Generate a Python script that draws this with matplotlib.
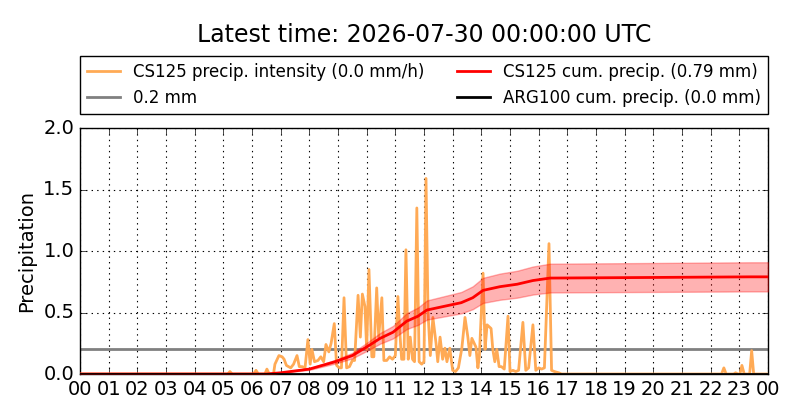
import numpy as np
import matplotlib
matplotlib.use("Agg")
import matplotlib.pyplot as plt

plt.style.use("classic")

title = "Latest time: 2026-07-30 00:00:00 UTC"

# CS125 precipitation intensity (mm/h), hours since 00 UTC
int_hours = [0.0, 5.15, 5.23, 5.31, 6.05, 6.14, 6.22, 6.45, 6.52, 6.6,
             6.75, 6.8, 6.94, 7.05, 7.12, 7.2, 7.35, 7.45, 7.57, 7.65,
             7.75, 7.85, 7.95, 8.03, 8.09, 8.18, 8.3, 8.4, 8.5, 8.58,
             8.68, 8.76, 8.87, 8.95, 9.05, 9.12, 9.21, 9.3, 9.4, 9.5,
             9.58, 9.7, 9.78, 9.85, 9.94, 10.0, 10.08, 10.18, 10.25, 10.35,
             10.42, 10.53, 10.6, 10.7, 10.8, 10.9, 11.0, 11.09, 11.15, 11.22,
             11.3, 11.37, 11.45, 11.52, 11.6, 11.67, 11.75, 11.83, 11.92, 12.0,
             12.07, 12.14, 12.22, 12.31, 12.42, 12.48, 12.56, 12.65, 12.73, 12.8,
             12.9, 13.0, 13.1, 13.2, 13.32, 13.43, 13.53, 13.6, 13.67, 13.81,
             13.88, 13.93, 14.06, 14.13, 14.2, 14.34, 14.4, 14.47, 14.54, 14.62,
             14.7, 14.8, 14.93, 15.0, 15.1, 15.2, 15.3, 15.45, 15.55, 15.65,
             15.8, 15.9, 16.0, 16.1, 16.2, 16.36, 16.45, 16.55, 16.7, 16.8,
             22.38, 22.46, 22.54, 22.8, 22.87, 22.95, 23.02, 23.09, 23.17, 23.36,
             23.43, 23.5, 24.0]
int_vals = [0.0, 0.0, 0.02, 0.0, 0.0, 0.03, 0.0, 0.0, 0.04, 0.0,
            0.0, 0.08, 0.15, 0.14, 0.12, 0.07, 0.05, 0.08, 0.15, 0.06,
            0.06, 0.05, 0.28, 0.08, 0.2, 0.1, 0.11, 0.14, 0.1, 0.24,
            0.18, 0.25, 0.41, 0.07, 0.05, 0.05, 0.62, 0.05, 0.06, 0.11,
            0.11, 0.64, 0.3, 0.65, 0.55, 0.2, 0.85, 0.14, 0.14, 0.7,
            0.3, 0.62, 0.11, 0.11, 0.14, 0.12, 0.15, 0.63, 0.36, 0.12,
            0.12, 1.01, 0.12, 0.3, 0.12, 0.1, 1.35, 0.1, 0.08, 0.1,
            1.59, 0.5, 0.15, 0.46, 0.25, 0.1, 0.3, 0.12, 0.21, 0.1,
            0.21, 0.03, 0.02, 0.05, 0.21, 0.46, 0.3, 0.15, 0.29, 0.22,
            0.05, 0.14, 0.82, 0.2, 0.4, 0.37, 0.2, 0.1, 0.2, 0.06,
            0.06, 0.04, 0.47, 0.02, 0.03, 0.02, 0.03, 0.42, 0.03, 0.05,
            0.4, 0.03, 0.05, 0.04, 0.05, 1.06, 0.03, 0.02, 0.01, 0.0,
            0.0, 0.05, 0.0, 0.0, 0.01, 0.0, 0.0, 0.07, 0.0, 0.0,
            0.19, 0.0, 0.0]

# CS125 cumulative precipitation (mm)
cum_hours = [0.0, 6.5, 7.0, 8.0, 8.9, 9.5, 10.0, 10.47, 10.92, 11.4,
             11.79, 12.1, 12.9, 13.3, 13.7, 14.06, 14.65, 15.25, 15.8, 16.4,
             20.0, 23.4, 24.0]
cum_vals = [0.0, 0.0, 0.01, 0.04, 0.10, 0.15, 0.22, 0.29, 0.34, 0.43,
            0.47, 0.52, 0.56, 0.58, 0.62, 0.68, 0.71, 0.73, 0.76, 0.78,
            0.785, 0.79, 0.79]
cum_spread = 0.15  # relative uncertainty band

# ARG100 cumulative precipitation (mm)
arg_hours = [0.0, 24.0]
arg_vals = [0.0, 0.0]

threshold = 0.2
hour_labels = ["%02d" % (h % 24) for h in range(25)]

fig = plt.figure(figsize=(8, 4.2), dpi=100)
fig.patch.set_facecolor("white")
ax = fig.add_axes([0.1, 0.1095, 0.86, 0.5857])

cum = np.array(cum_vals)
ax.axhline(threshold, color="0.5", lw=2, label="0.2 mm", zorder=2)
ax.plot(int_hours, int_vals, color="#ffaa55", lw=2,
        label="CS125 precip. intensity (0.0 mm/h)", zorder=3)
ax.fill_between(cum_hours, cum * (1 - cum_spread), cum * (1 + cum_spread),
                facecolor="red", edgecolor="red", alpha=0.3, zorder=4)
ax.plot(cum_hours, cum_vals, color="red", lw=2,
        label="CS125 cum. precip. (0.79 mm)", zorder=5)
ax.plot(arg_hours, arg_vals, color="black", lw=2,
        label="ARG100 cum. precip. (0.0 mm)", zorder=6)

ax.set_xlim(0, 24)
ax.set_ylim(0, 2)
ax.set_xticks(range(25))
ax.set_xticklabels(hour_labels)
ax.set_yticks([0, 0.5, 1.0, 1.5, 2.0])
ax.tick_params(labelsize=14)
ax.grid(True, color="k", linestyle=":", linewidth=0.8)
ax.set_ylabel("Precipitation", fontsize=14)

handles, labels = ax.get_legend_handles_labels()
order = [1, 0, 2, 3]
ax.legend([handles[i] for i in order], [labels[i] for i in order],
          loc="lower left", bbox_to_anchor=(0, 1.058, 1, 0.2), mode="expand",
          ncol=2, borderaxespad=0, fontsize=12, fancybox=False,
          handlelength=2, numpoints=1)

fig.text(0.53, 0.917, title, ha="center", va="center", fontsize=17)

fig.savefig("out.png", dpi=100, facecolor="white")
